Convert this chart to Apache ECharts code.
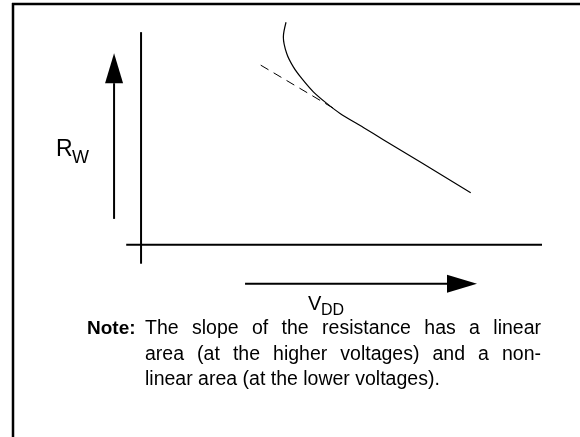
<!DOCTYPE html>
<html><head><meta charset="utf-8">
<script src="https://cdn.jsdelivr.net/npm/echarts@6/dist/echarts.min.js"></script>
<style>html,body{margin:0;padding:0;background:#fff}#c{width:580px;height:437px}</style>
</head><body><div id="c"></div>
<script>
// Data (arbitrary units: VDD along x, RW along y; origin at the axes crossing)
const curveVdd = [3.616, 3.549, 3.633, 3.798, 4.007, 4.297, 4.631, 4.963, 5.544, 6.042, 8.222];
const curveRw  = [9.911, 9.258, 8.520, 7.924, 7.409, 6.813, 6.298, 5.853, 5.227, 4.684, 2.324];
const tangentVdd = [2.985, 4.79];
const tangentRw  = [8.0, 6.09];
const vAxisVdd = [0, 0];
const vAxisRw  = [-0.84, 9.47];
const hAxisVdd = [-0.37, 10];
const hAxisRw  = [0, 0];
const arrowUp    = [-0.673, 1.156, -0.673, 8.533];   // x1, y1, x2, y2 (tip)
const arrowRight = [2.594, -1.733, 8.379, -1.733];
const yLabel = ['R', 'W'];
const xLabel = ['V', 'DD'];
const noteHead = 'Note:';
const noteLines = [
  'The slope of the resistance has a linear',
  'area (at the higher voltages) and a non-',
  'linear area (at the lower voltages).'
];

const zip = (a, b) => a.map((v, i) => [v, b[i]]);
const FONT = '"Liberation Sans", Arial, Helvetica, sans-serif';

const chart = echarts.init(document.getElementById('c'), null, {renderer: 'canvas'});

function arrowItem(params, api) {
  const p1 = api.coord([api.value(0), api.value(1)]);
  const p2 = api.coord([api.value(2), api.value(3)]);
  const dx = p2[0] - p1[0], dy = p2[1] - p1[1];
  const len = Math.hypot(dx, dy);
  const ux = dx / len, uy = dy / len;
  const L = 30, W = 9;
  const bx = p2[0] - ux * L, by = p2[1] - uy * L;
  return {
    type: 'group',
    children: [
      {type: 'line', shape: {x1: p1[0], y1: p1[1], x2: bx, y2: by}, style: {stroke: '#000', lineWidth: 2}},
      {type: 'polygon', shape: {points: [[p2[0], p2[1]], [bx - uy * W, by + ux * W], [bx + uy * W, by - ux * W]]}, style: {fill: '#000'}}
    ]
  };
}

const txt = (x, y, s, size, bold) => ({
  type: 'text', x: x, y: y,
  style: {text: s, fontSize: size, fontFamily: FONT, fontWeight: bold ? 'bold' : 'normal', fill: '#000', verticalAlign: 'middle'}
});

const mctx = document.createElement('canvas').getContext('2d');
function justified(line, x0, x1, y, size) {
  mctx.font = size + 'px ' + FONT;
  const words = line.split(' ');
  const widths = words.map(w => mctx.measureText(w).width);
  const total = widths.reduce((a, b) => a + b, 0);
  const gap = (x1 - x0 - total) / (words.length - 1);
  let x = x0;
  return words.map((w, i) => { const e = txt(x, y, w, size); x += widths[i] + gap; return e; });
}

const NOTE_SIZE = 19.5;
const option = {
  animation: false,
  backgroundColor: '#fff',
  grid: {left: 121, right: 38, top: 18, bottom: 136},
  xAxis: {type: 'value', min: -0.5, max: 10, show: false},
  yAxis: {type: 'value', min: -2.5, max: 10.1, show: false},
  series: [
    {type: 'line', data: zip(vAxisVdd, vAxisRw), symbol: 'none', lineStyle: {color: '#000', width: 2}},
    {type: 'line', data: zip(hAxisVdd, hAxisRw), symbol: 'none', lineStyle: {color: '#000', width: 2}},
    {type: 'line', data: zip(tangentVdd, tangentRw), symbol: 'none', lineStyle: {color: '#000', width: 1, type: [9, 6]}},
    {type: 'line', data: zip(curveVdd, curveRw), symbol: 'none', smooth: 0.3, lineStyle: {color: '#000', width: 1.2}},
    {type: 'custom', data: [arrowUp, arrowRight], renderItem: arrowItem}
  ],
  graphic: [
    {type: 'line', shape: {x1: 12, y1: 4, x2: 580, y2: 4}, style: {stroke: '#000', lineWidth: 2.5}},
    {type: 'line', shape: {x1: 13, y1: 3, x2: 13, y2: 437}, style: {stroke: '#000', lineWidth: 2.5}},
    txt(56, 150, yLabel[0], 23),
    txt(72, 158, yLabel[1], 18),
    txt(308, 304, xLabel[0], 20),
    txt(321, 311, xLabel[1], 16),
    txt(87, 329, noteHead, 19, true)
  ].concat(
    justified(noteLines[0], 145, 541, 329, NOTE_SIZE),
    justified(noteLines[1], 145, 541, 354.5, NOTE_SIZE),
    [txt(145, 380, noteLines[2], NOTE_SIZE)]
  )
};
chart.setOption(option);
</script>
</body></html>
